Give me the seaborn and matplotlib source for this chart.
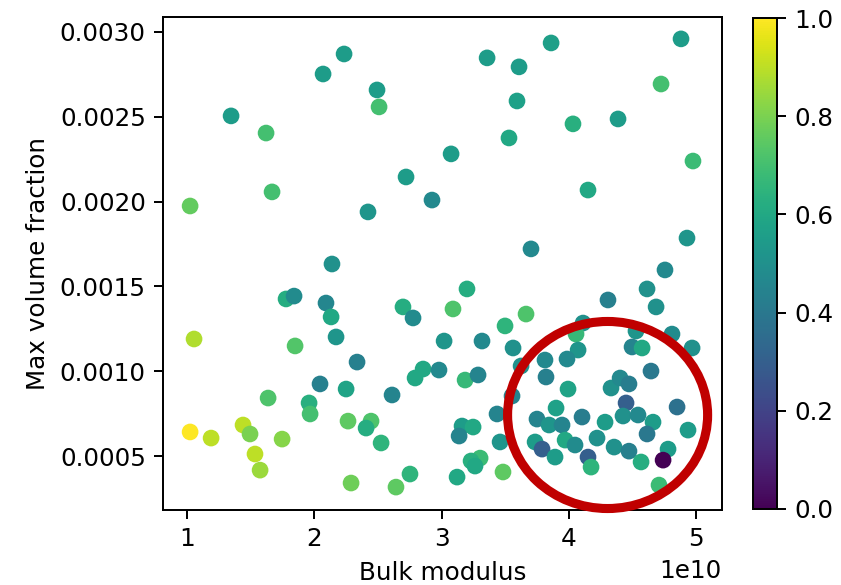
import numpy as np
import pandas as pd
import matplotlib
matplotlib.use("Agg")
import matplotlib.pyplot as plt
import seaborn as sns
from matplotlib.patches import Ellipse
from matplotlib.cm import ScalarMappable
from matplotlib.colors import Normalize

# Bulk modulus (in units of 1e10 Pa)
bulk_modulus_e10 = [
    1.346, 1.621, 2.069, 2.234, 1.668, 2.493, 2.509, 3.358, 3.609, 3.593,
    3.530, 3.075, 2.721, 3.861, 4.882, 4.725, 4.033, 4.387, 4.976, 4.151,
    1.024, 2.139, 1.778, 1.841, 2.092, 2.132, 2.171, 1.055, 1.849, 2.422,
    2.925, 3.703, 3.200, 2.697, 2.776, 3.090, 3.664, 3.499, 3.020, 3.318,
    3.562, 4.929, 4.756, 4.615, 4.308, 4.686, 4.112, 4.057, 4.528, 4.811,
    4.969, 4.497, 4.576, 4.073, 2.336, 2.045, 2.250, 1.637, 1.959, 1.967,
    2.265, 1.024, 1.189, 1.440, 1.495, 1.747, 1.534, 1.574, 2.289, 2.611,
    2.792, 2.855, 2.980, 3.185, 3.287, 3.625, 3.554, 3.436, 2.446, 2.407,
    2.525, 3.161, 3.248, 3.138, 3.460, 3.303, 3.232, 3.263, 3.483, 3.122,
    2.752, 2.642, 3.986, 3.813, 3.821, 4.646, 3.994, 4.332, 4.403, 4.473,
    4.450, 4.851, 3.900, 3.750, 3.845, 3.947, 4.104, 4.285, 4.426, 4.544,
    4.662, 4.937, 4.615, 4.222, 3.735, 3.971, 4.049, 3.790, 3.892, 4.356,
    4.473, 4.780, 4.151, 4.175, 4.568, 4.741, 4.709,
]

max_volume_fraction = [
    0.002505, 0.002404, 0.002752, 0.002870, 0.002057, 0.002658, 0.002558, 0.002847, 0.002794, 0.002593,
    0.002375, 0.002281, 0.002145, 0.002935, 0.002959, 0.002693, 0.002458, 0.002487, 0.002239, 0.002068,
    0.001974, 0.001632, 0.001426, 0.001443, 0.001402, 0.001320, 0.001202, 0.001190, 0.001149, 0.001939,
    0.002009, 0.001721, 0.001485, 0.001379, 0.001314, 0.001367, 0.001337, 0.001267, 0.001178, 0.001178,
    0.001137, 0.001785, 0.001597, 0.001485, 0.001420, 0.001379, 0.001284, 0.001219, 0.001237, 0.001219,
    0.001137, 0.001143, 0.001137, 0.001125, 0.001054, 0.000925, 0.000895, 0.000842, 0.000813, 0.000748,
    0.000706, 0.000642, 0.000606, 0.000683, 0.000630, 0.000600, 0.000512, 0.000417, 0.000341, 0.000860,
    0.000960, 0.001013, 0.001007, 0.000948, 0.000978, 0.001031, 0.000854, 0.000748, 0.000706, 0.000665,
    0.000577, 0.000677, 0.000671, 0.000618, 0.000583, 0.000488, 0.000471, 0.000441, 0.000406, 0.000376,
    0.000394, 0.000317, 0.001072, 0.001066, 0.000966, 0.001001, 0.000895, 0.000901, 0.000960, 0.000925,
    0.000813, 0.000789, 0.000783, 0.000718, 0.000683, 0.000683, 0.000730, 0.000700, 0.000736, 0.000742,
    0.000700, 0.000653, 0.000630, 0.000606, 0.000583, 0.000594, 0.000565, 0.000541, 0.000494, 0.000553,
    0.000529, 0.000541, 0.000494, 0.000435, 0.000465, 0.000476, 0.000329,
]

# Colour value of each sample (0..1)
score = [
    0.55, 0.70, 0.55, 0.55, 0.70, 0.55, 0.70, 0.55, 0.55, 0.57,
    0.60, 0.55, 0.55, 0.56, 0.55, 0.70, 0.63, 0.55, 0.68, 0.60,
    0.76, 0.50, 0.62, 0.48, 0.46, 0.60, 0.52, 0.88, 0.73, 0.52,
    0.47, 0.47, 0.62, 0.62, 0.48, 0.72, 0.72, 0.65, 0.52, 0.47,
    0.50, 0.52, 0.47, 0.50, 0.43, 0.50, 0.50, 0.67, 0.52, 0.48,
    0.50, 0.45, 0.60, 0.52, 0.43, 0.43, 0.58, 0.72, 0.63, 0.70,
    0.75, 1.00, 0.90, 0.90, 0.80, 0.82, 0.90, 0.85, 0.78, 0.45,
    0.60, 0.60, 0.47, 0.67, 0.45, 0.50, 0.45, 0.45, 0.72, 0.62,
    0.65, 0.55, 0.60, 0.45, 0.52, 0.68, 0.63, 0.60, 0.75, 0.60,
    0.65, 0.75, 0.47, 0.47, 0.43, 0.40, 0.58, 0.50, 0.47, 0.42,
    0.30, 0.37, 0.57, 0.45, 0.52, 0.45, 0.42, 0.55, 0.50, 0.47,
    0.55, 0.55, 0.40, 0.50, 0.55, 0.60, 0.48, 0.30, 0.55, 0.50,
    0.43, 0.55, 0.30, 0.65, 0.62, 0.00, 0.68,
]

df = pd.DataFrame({
    "Bulk modulus": np.array(bulk_modulus_e10) * 1e10,
    "Max volume fraction": max_volume_fraction,
    "score": score,
})

DPI = 177
fig = plt.figure(figsize=(841 / DPI, 585 / DPI), dpi=DPI)
ax = fig.add_axes([163 / 841, 75 / 585, 559 / 841, 493 / 585])
cax = fig.add_axes([753 / 841, 76 / 585, 24 / 841, 491 / 585])

sns.scatterplot(
    data=df, x="Bulk modulus", y="Max volume fraction", hue="score",
    palette="viridis", hue_norm=(0, 1), legend=False, ax=ax,
    s=46, linewidth=0, edgecolor="face",
)

ax.set_xlim(0.811e10, 5.204e10)
ax.set_ylim(0.000182, 0.003088)
ax.set_xticks([1e10, 2e10, 3e10, 4e10, 5e10])
ax.set_yticks([0.0005, 0.0010, 0.0015, 0.0020, 0.0025, 0.0030])

# Highlight the high-modulus, low-fraction cluster
ring = Ellipse((4.305e10, 0.000742), width=1.572e10, height=0.0011026,
               fill=False, edgecolor="#c00000", linewidth=3.7, clip_on=False,
               zorder=5)
ax.add_patch(ring)

sm = ScalarMappable(norm=Normalize(0, 1), cmap="viridis")
cb = fig.colorbar(sm, cax=cax)
cb.set_ticks([0.0, 0.2, 0.4, 0.6, 0.8, 1.0])

fig.savefig("out.png", dpi=DPI)
